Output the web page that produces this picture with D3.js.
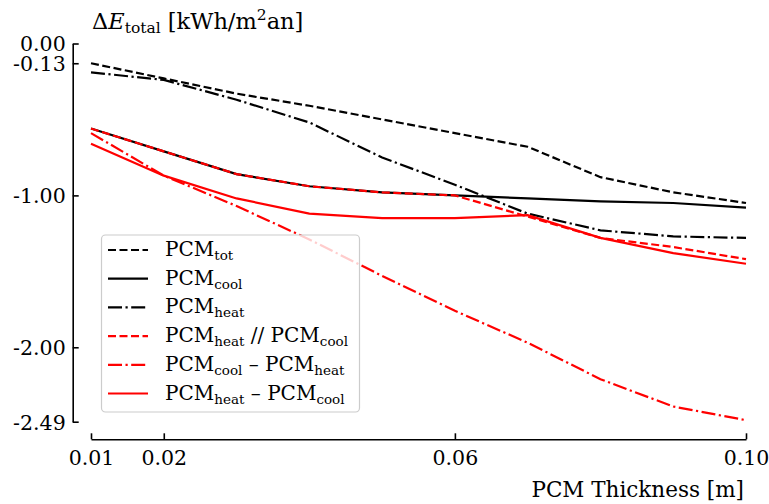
<!DOCTYPE html>
<html><head><meta charset="utf-8">
<script src="https://cdn.jsdelivr.net/npm/d3@7"></script>
<style>
body{margin:0;background:#fff;}
</style></head>
<body><svg id="c" width="769" height="504"></svg>
<script>
const thickness = [0.01,0.02,0.03,0.04,0.05,0.06,0.07,0.08,0.09,0.10];
const pcmTot   = [-0.13,-0.23,-0.33,-0.41,-0.50,-0.59,-0.68,-0.88,-0.98,-1.05];
const pcmCool  = [-0.56,-0.71,-0.86,-0.94,-0.98,-1.00,-1.02,-1.04,-1.05,-1.08];
const pcmHeat  = [-0.19,-0.24,-0.37,-0.52,-0.75,-0.93,-1.12,-1.23,-1.27,-1.28];
const heatParCool = [-0.56,-0.71,-0.86,-0.94,-0.98,-1.00,-1.14,-1.28,-1.34,-1.42];
const coolThenHeat = [-0.59,-0.87,-1.07,-1.29,-1.53,-1.76,-1.97,-2.21,-2.39,-2.48];
const heatThenCool = [-0.66,-0.87,-1.02,-1.12,-1.15,-1.15,-1.13,-1.28,-1.38,-1.45];
const xTicks = [0.01,0.02,0.06,0.10];
const yTicks = [0.00,-0.13,-1.00,-2.00,-2.49];

const series = [
  {label:[["PCM","tot"]], values:pcmTot, color:"#000", dash:"8,3.5"},
  {label:[["PCM","cool"]], values:pcmCool, color:"#000", dash:null},
  {label:[["PCM","heat"]], values:pcmHeat, color:"#000", dash:"14,3.5,2.2,3.5"},
  {label:[["PCM","heat"],[" // PCM","cool"]], values:heatParCool, color:"#ff0000", dash:"8,3.5"},
  {label:[["PCM","cool"],[" \u2013 PCM","heat"]], values:coolThenHeat, color:"#ff0000", dash:"14,3.5,2.2,3.5"},
  {label:[["PCM","heat"],[" \u2013 PCM","cool"]], values:heatThenCool, color:"#ff0000", dash:null}
];

const FF = "DejaVu Serif";
const svg = d3.select("#c");
const x = d3.scaleLinear().domain([0.01,0.10]).range([91,746]);
const y = d3.scaleLinear().domain([0,-2.49]).range([43.5,421.7]);
const FS = 20.5;
const SUB = 14;
const fmt = d => d.toFixed(2);

// axes
const gy = svg.append("g").attr("transform","translate(72.7,0)")
  .call(d3.axisLeft(y).tickValues(yTicks).tickFormat(fmt).tickSizeInner(-6).tickSizeOuter(0).tickPadding(7));
const gx = svg.append("g").attr("transform","translate(0,439.3)")
  .call(d3.axisBottom(x).tickValues(xTicks).tickFormat(fmt).tickSizeInner(-6).tickSizeOuter(0).tickPadding(11));
[gy,gx].forEach(g=>{
  g.attr("font-family",FF).attr("font-size",FS);
  g.select(".domain").attr("stroke","#000").attr("stroke-width",1.6);
  g.selectAll(".tick line").attr("stroke","#000").attr("stroke-width",1.6);
  g.selectAll(".tick text").attr("font-size",FS).attr("font-family",FF).attr("fill","#000");
});
gy.selectAll(".tick text").attr("dy","0.36em");
gx.selectAll(".tick text").attr("dy","0.72em");

// lines
const line = d3.line().x((d,i)=>x(thickness[i])).y(d=>y(d));
series.forEach(s=>{
  svg.append("path").datum(s.values).attr("d",line)
    .attr("fill","none").attr("stroke",s.color).attr("stroke-width",2.2)
    .attr("stroke-dasharray",s.dash);
});

// axis labels
const t = svg.append("text").attr("x",92).attr("y",29).attr("font-size",22.5).attr("font-family",FF);
t.append("tspan").text("\u0394");
t.append("tspan").attr("font-style","italic").text("E");
t.append("tspan").attr("font-size",15.5).attr("dy",4).text("total");
t.append("tspan").attr("dy",-4).text(" [kWh/m");
t.append("tspan").attr("font-size",15.5).attr("dy",-9).text("2");
t.append("tspan").attr("dy",9).text("an]");

svg.append("text").attr("x",744).attr("y",497).attr("text-anchor","end")
  .attr("font-size",21.5).attr("font-family",FF).text("PCM Thickness [m]");

// legend
const lg = svg.append("g");
lg.append("rect").attr("x",101.5).attr("y",235).attr("width",258).attr("height",177)
  .attr("rx",4).attr("fill","#fff").attr("fill-opacity",0.8).attr("stroke","#cccccc").attr("stroke-width",1.2);
series.forEach((s,i)=>{
  const yy = 250 + i*28.7;
  lg.append("line").attr("x1",108).attr("x2",148).attr("y1",yy).attr("y2",yy)
    .attr("stroke",s.color).attr("stroke-width",2.2).attr("stroke-dasharray",s.dash);
  const tx = lg.append("text").attr("x",165).attr("y",yy+6).attr("font-size",FS-0.5).attr("font-family",FF);
  s.label.forEach((p,k)=>{
    tx.append("tspan").attr("dy",k===0?0:-4).text(p[0]);
    tx.append("tspan").attr("font-size",SUB-0.5).attr("dy",4).text(p[1]);
  });
});
</script></body></html>
